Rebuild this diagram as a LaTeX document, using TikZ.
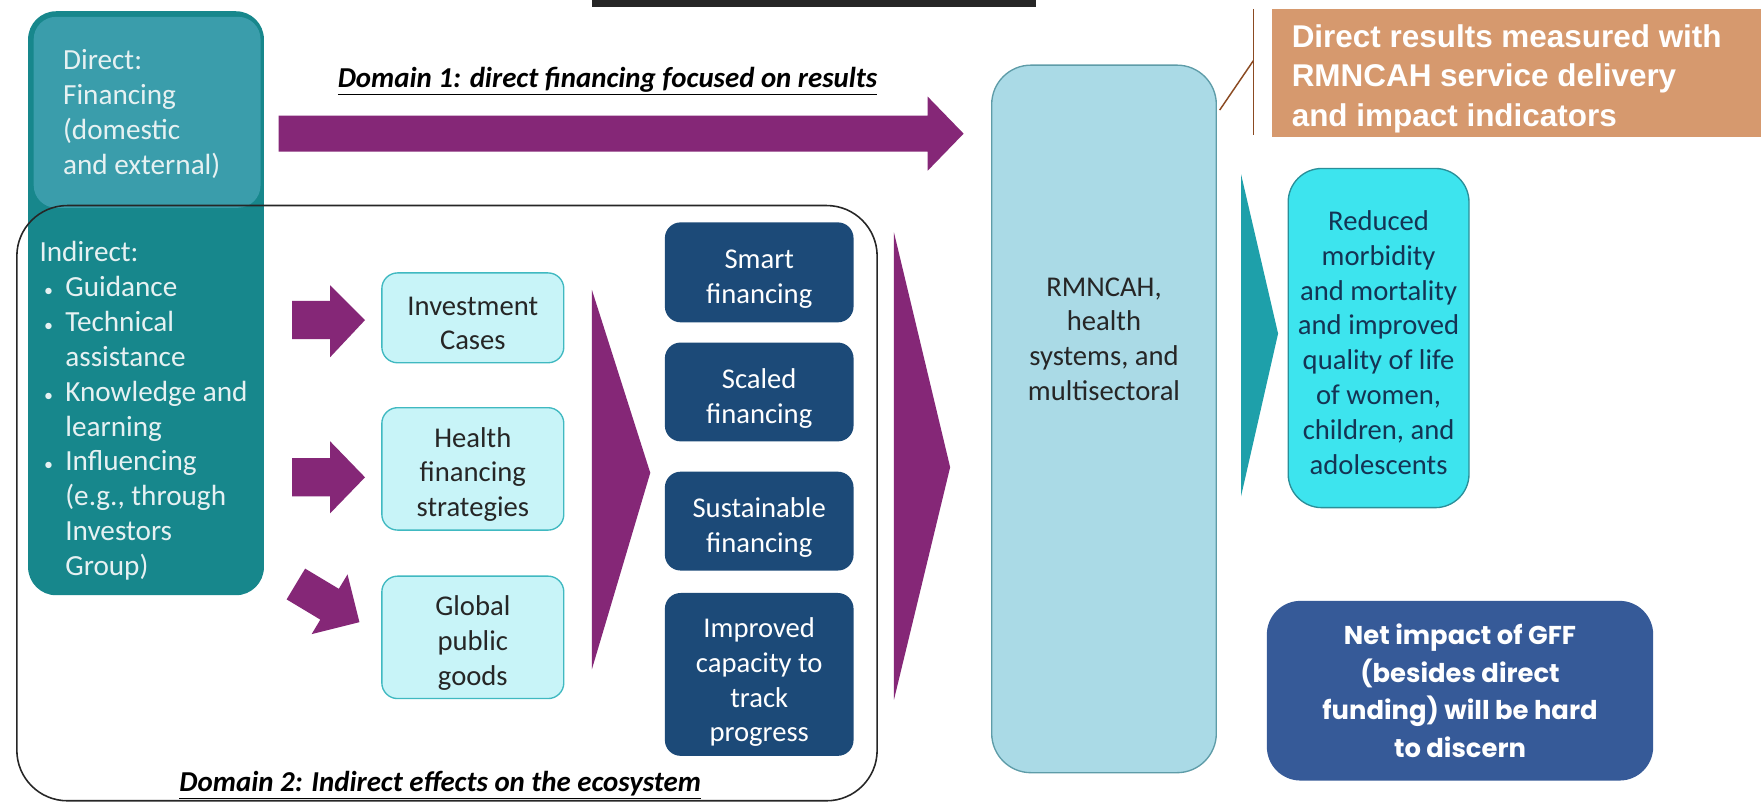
\documentclass[tikz,border=0pt]{standalone}
\usepackage{fontspec}
\setmainfont{Carlito}
\newfontfamily\arialfont{Liberation Sans}
\newfontfamily\gothicfont{Poppins}
\definecolor{tealdark}{HTML}{17878C}
\definecolor{teallight}{HTML}{3A9DAB}
\definecolor{plum}{HTML}{852777}
\definecolor{skyfill}{HTML}{AADAE6}
\definecolor{skyedge}{HTML}{5E9CA8}
\definecolor{cyanfill}{HTML}{3DE4EE}
\definecolor{cyanedge}{HTML}{2A8F99}
\definecolor{palefill}{HTML}{C8F4F8}
\definecolor{paleedge}{HTML}{40B9C1}
\definecolor{navybox}{HTML}{1C4A78}
\definecolor{bluenote}{HTML}{365A98}
\definecolor{tannote}{HTML}{D6996E}
\definecolor{brownline}{HTML}{8B4A22}
\definecolor{tealtri}{HTML}{1EA0AA}
\definecolor{inktext}{HTML}{262626}
\definecolor{softwhite}{HTML}{E6F1F2}
\tikzset{
  body/.style={font=\fontsize{25.5}{31}\selectfont, align=center, inner sep=0pt},
  coltext/.style={font=\fontsize{26}{31}\selectfont, align=left, inner sep=0pt, anchor=north west, text=softwhite},
  palebox/.style={draw=paleedge, fill=palefill, line width=1.2pt, rounded corners=14pt, minimum width=162pt, inner sep=0pt},
  paletext/.style={body, text=inktext},
  navyitem/.style={fill=navybox, rounded corners=14pt, minimum width=168pt, inner sep=0pt},
  navytext/.style={body, text=white},
  domaintitle/.style={font=\fontsize{25.7}{30}\selectfont\bfseries\itshape, inner sep=0pt, text=black},
  plumarrow/.style={fill=plum, draw=none}
}
\newcommand{\bulletitem}{\makebox[23pt][l]{\hspace{4pt}\fontsize{16}{16}\selectfont\textbullet}}
\begin{document}
\begin{tikzpicture}[x=1pt,y=-1pt]
\useasboundingbox (0,0) rectangle (1568,715);
\fill[white] (0,0) rectangle (1568,715);

% slide title bar remnant
\fill[black!85] (527,0) rectangle (922,6);

% financing column
\node[fill=tealdark, rounded corners=25pt, minimum width=210pt, minimum height=520pt, inner sep=0pt] (fin) at (130,270) {};
\node[fill=teallight, rounded corners=20pt, minimum width=202pt, minimum height=170pt, inner sep=0pt] (direct) at (131,100) {};
\node[coltext] (directtxt) at (56,44)
  {Direct:\\Financing\\(domestic\\and external)};
\node[coltext] (indirecttxt) at (35,215)
  {Indirect:\\
   \bulletitem Guidance\\
   \bulletitem Technical\\
   \hspace*{23pt}assistance\\
   \bulletitem Knowledge and\\
   \hspace*{23pt}learning\\
   \bulletitem Influencing\\
   \hspace*{23pt}(e.g., through\\
   \hspace*{23pt}Investors\\
   \hspace*{23pt}Group)};

% domain 2 frame
\node[draw=black!85, line width=1.4pt, rounded corners=45pt, minimum width=766pt, minimum height=530pt, inner sep=0pt] (dom2) at (398,448) {};
\node[domaintitle] (dom2title) at (392,699) {\underline{Domain 2: Indirect effects on the ecosystem}};

% domain 1 title and arrow
\node[domaintitle] (dom1title) at (541,72) {\underline{Domain 1: direct financing focused on results}};
\fill[plumarrow] (248,103) -- (826,103) -- (826,86) -- (858,119) -- (826,152) -- (826,135) -- (248,135) -- cycle;

% light boxes
\node[palebox, minimum height=80pt] (invest) at (421,283) {};
\node[palebox, minimum height=109pt] (health) at (421,417.5) {};
\node[palebox, minimum height=109pt] (global) at (421,567.5) {};
\node[paletext] (investtxt) at ([yshift=-5pt]invest.center) {Investment\\Cases};
\node[paletext] (healthtxt) at ([yshift=-5pt]health.center) {Health\\financing\\strategies};
\node[paletext] (globaltxt) at ([yshift=-5pt]global.center) {Global\\public\\goods};

% small block arrows into the light boxes
\fill[plumarrow] (260,268) -- (294,268) -- (294,254) -- (325,285) -- (294,318) -- (294,302) -- (260,302) -- cycle;
\fill[plumarrow] (260,408) -- (294,408) -- (294,393) -- (325,425) -- (294,457) -- (294,442) -- (260,442) -- cycle;
\begin{scope}[shift={(292.6,537.5)}, rotate=-31]
  \fill[plumarrow] (-34,-16) -- (1,-16) -- (1,-31) -- (32,0) -- (1,31) -- (1,16) -- (-34,16) -- cycle;
\end{scope}

% chevrons
\fill[plumarrow] (527,258) -- (579,421) -- (527,596) -- cycle;
\fill[plumarrow] (796,207) -- (846,416) -- (796,623) -- cycle;

% dark result boxes
\node[navyitem, minimum height=89pt] (smart) at (676,242.5) {};
\node[navyitem, minimum height=88pt] (scaled) at (676,349) {};
\node[navyitem, minimum height=88pt] (sustain) at (676,464) {};
\node[navyitem, minimum height=145pt] (track) at (676,600.5) {};
\node[navytext] (smarttxt) at ([yshift=-6pt]smart.center) {Smart\\financing};
\node[navytext] (scaledtxt) at ([yshift=-6pt]scaled.center) {Scaled\\financing};
\node[navytext] (sustaintxt) at ([yshift=-6pt]sustain.center) {Sustainable\\financing};
\node[navytext] (tracktxt) at ([yshift=-7pt]track.center) {Improved\\capacity to\\track\\progress};

% outcome column
\node[draw=skyedge, fill=skyfill, line width=1.2pt, rounded corners=35pt, minimum width=200pt, minimum height=630pt, inner sep=0pt] (rmncah) at (983,373) {};
\node[body, text=inktext] (rmncahtxt) at (983,302) {RMNCAH,\\health\\systems, and\\multisectoral};
\fill[tealtri] (1105,155) -- (1138,297) -- (1105,442) -- cycle;
\node[draw=cyanedge, fill=cyanfill, line width=1.2pt, rounded corners=30pt, minimum width=161pt, minimum height=302pt, inner sep=0pt] (reduced) at (1227.5,301) {};
\node[body, text=navybox!70!black] (reducedtxt) at ([yshift=-4pt]reduced.center)
  {Reduced\\morbidity\\and mortality\\and improved\\quality of life\\of women,\\children, and\\adolescents};

% callout with its bracket line
\node[fill=tannote, minimum width=435pt, minimum height=114pt, inner sep=0pt] (callout) at (1350.5,65) {};
\node[anchor=west, align=left, inner sep=0pt, text=white, font=\arialfont\bfseries\fontsize{28}{35}\selectfont] (callouttxt) at (1150,70)
  {Direct results measured with\\RMNCAH service delivery\\and impact indicators};
\coordinate (barTop) at (1116,8);
\coordinate (barBot) at (1116,120);
\coordinate (barMid) at (1116,54);
\coordinate (rmncahCorner) at (1086,98);
\draw[brownline, line width=1.3pt] (barTop) -- (barBot);
\draw[brownline, line width=1.3pt] (barMid) -- (rmncahCorner);

% note
\node[fill=bluenote, rounded corners=30pt, minimum width=344pt, minimum height=160pt, align=center, inner sep=0pt, text=white, font=\gothicfont\bfseries\fontsize{23}{33.5}\selectfont] (note) at (1300,615)
  {Net impact of GFF\\(besides direct\\funding) will be hard\\to discern};
\end{tikzpicture}
\end{document}
